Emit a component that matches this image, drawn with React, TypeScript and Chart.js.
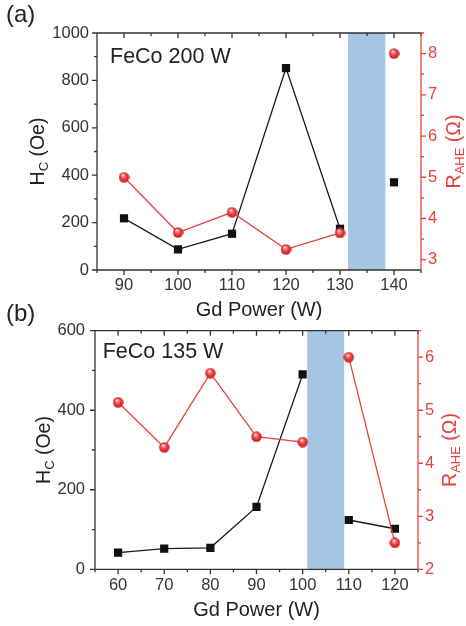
import React, { useEffect, useRef } from "react";
import { Chart, registerables } from "chart.js";
Chart.register(...registerables);

// ---------- Panel (a): FeCo 200 W ----------
const powerA = [90, 100, 110, 120, 130, 140];
const hcA = [218, 87, 153, 852, 174, 370];
const rA = [5.0, 3.66, 4.15, 3.25, 3.65, 8.0];
const breakA = 4; // no connecting line after this index
const bandA = [131.5, 138.4];
const xTicksA = [90, 100, 110, 120, 130, 140];
const hcTicksA = [0, 200, 400, 600, 800, 1000];
const rTicksA = [3, 4, 5, 6, 7, 8];

// ---------- Panel (b): FeCo 135 W ----------
const powerB = [60, 70, 80, 90, 100, 110, 120];
const hcB = [42, 52, 54, 157, 490, 124, 102];
const rB = [5.15, 4.3, 5.7, 4.5, 4.4, 6.0, 2.5];
const breakB = 4;
const bandB = [101, 109];
const xTicksB = [60, 70, 80, 90, 100, 110, 120];
const hcTicksB = [0, 200, 400, 600];
const rTicksB = [2, 3, 4, 5, 6];

const FONT = "'Liberation Sans', Arial, Helvetica, sans-serif";
const DARK = "#333333";
const RED = "#e8403c";
const BLUE = "#a6c4e3";
const W = 466;

type Panel = {
  tag: string;
  note: string;
  canvasTop: number;
  H: number;
  area: { left: number; right: number; top: number; bottom: number };
  x: number[];
  hc: number[];
  r: number[];
  brk: number;
  band: number[];
  xTicks: number[];
  hcTicks: number[];
  rTicks: number[];
  xRange: number[];
  hcRange: number[];
  rRange: number[];
  xMinor: number;
  hcMinor: number;
  rMinor: number;
  tagPos: number[];
  notePos: number[];
  xTitlePos: number[];
  leftTitlePos: number[];
  rightTitlePos: number[];
  leftPad: number;
};

const panels: Panel[] = [
  {
    tag: "(a)",
    note: "FeCo 200 W",
    canvasTop: 0,
    H: 320,
    area: { left: 97, right: 421, top: 33, bottom: 270 },
    x: powerA, hc: hcA, r: rA, brk: breakA, band: bandA,
    xTicks: xTicksA, hcTicks: hcTicksA, rTicks: rTicksA,
    xRange: [85, 145], hcRange: [0, 1000], rRange: [2.75, 8.5],
    xMinor: 5, hcMinor: 100, rMinor: 0.5,
    tagPos: [6, 21.5], notePos: [110, 62.5], xTitlePos: [259, 316],
    leftTitlePos: [43.5, 151.5], rightTitlePos: [460, 151.5], leftPad: 8,
  },
  {
    tag: "(b)",
    note: "FeCo 135 W",
    canvasTop: 300,
    H: 326,
    area: { left: 95, right: 418, top: 30.7, bottom: 269.3 },
    x: powerB, hc: hcB, r: rB, brk: breakB, band: bandB,
    xTicks: xTicksB, hcTicks: hcTicksB, rTicks: rTicksB,
    xRange: [55, 125], hcRange: [0, 600], rRange: [2, 6.5],
    xMinor: 5, hcMinor: 100, rMinor: 0.5,
    tagPos: [6, 21], notePos: [102.7, 58.3], xTitlePos: [256.5, 316],
    leftTitlePos: [50, 150], rightTitlePos: [456, 150], leftPad: 10,
  },
];

function makeBall(d: number) {
  const c = document.createElement("canvas");
  c.width = d;
  c.height = d;
  const g = c.getContext("2d")!;
  const r = d / 2;
  const grad = g.createRadialGradient(r * 0.8, r * 0.6, r * 0.05, r, r, r);
  grad.addColorStop(0, "#ffffff");
  grad.addColorStop(0.22, "#fb8a8a");
  grad.addColorStop(0.55, "#ec3a3a");
  grad.addColorStop(1, "#c41c1c");
  g.fillStyle = grad;
  g.beginPath();
  g.arc(r, r, r - 0.3, 0, Math.PI * 2);
  g.fill();
  return c;
}

function drawRotated(
  ctx: CanvasRenderingContext2D,
  parts: { t: string; sub?: boolean }[],
  bx: number,
  cy: number,
  color: string,
  size: number
) {
  const fMain = `${size}px ${FONT}`;
  const fSub = `${Math.round(size * 0.66)}px ${FONT}`;
  ctx.save();
  ctx.translate(bx, cy);
  ctx.rotate(-Math.PI / 2);
  let total = 0;
  for (const p of parts) {
    ctx.font = p.sub ? fSub : fMain;
    total += ctx.measureText(p.t).width;
  }
  let x = -total / 2;
  ctx.fillStyle = color;
  ctx.textAlign = "left";
  ctx.textBaseline = "alphabetic";
  for (const p of parts) {
    ctx.font = p.sub ? fSub : fMain;
    ctx.fillText(p.t, x, p.sub ? size * 0.22 : 0);
    x += ctx.measureText(p.t).width;
  }
  ctx.restore();
}

function minorValues(min: number, max: number, step: number) {
  const out: number[] = [];
  const start = Math.ceil(min / step - 1e-9) * step;
  for (let v = start; v <= max + 1e-9; v += step) out.push(Math.round(v * 1000) / 1000);
  return out;
}

function PanelChart({ p }: { p: Panel }) {
  const ref = useRef<HTMLCanvasElement | null>(null);
  useEffect(() => {
    const canvas = ref.current!;
    const ball = makeBall(11);

    const deco = {
      id: "deco",
      beforeDatasetsDraw(chart: any) {
        const { ctx, chartArea } = chart;
        const xs = chart.scales.x;
        const x0 = xs.getPixelForValue(p.band[0]);
        const x1 = xs.getPixelForValue(p.band[1]);
        ctx.save();
        ctx.fillStyle = BLUE;
        ctx.fillRect(x0, chartArea.top, x1 - x0, chartArea.bottom - chartArea.top);
        ctx.restore();
      },
      afterDraw(chart: any) {
        const { ctx, chartArea } = chart;
        const { left, right, top, bottom } = chartArea;
        const xs = chart.scales.x;
        const ys = chart.scales.y;
        const rs = chart.scales.y1;
        ctx.save();
        ctx.lineWidth = 1.3;
        ctx.strokeStyle = DARK;
        ctx.beginPath();
        ctx.moveTo(left, top);
        ctx.lineTo(left, bottom);
        ctx.lineTo(right, bottom);
        ctx.moveTo(left, top);
        ctx.lineTo(right, top);
        for (const v of minorValues(p.xRange[0], p.xRange[1], p.xMinor)) {
          const px = xs.getPixelForValue(v);
          const major = p.xTicks.includes(v);
          const len = major ? 5 : 3;
          ctx.moveTo(px, bottom);
          ctx.lineTo(px, bottom + len);
          ctx.moveTo(px, top);
          ctx.lineTo(px, top + len);
        }
        for (const v of minorValues(p.hcRange[0], p.hcRange[1], p.hcMinor)) {
          const py = ys.getPixelForValue(v);
          const major = p.hcTicks.includes(v);
          ctx.moveTo(left - (major ? 5 : 3), py);
          ctx.lineTo(left, py);
        }
        ctx.stroke();
        ctx.strokeStyle = RED;
        ctx.beginPath();
        ctx.moveTo(right, top);
        ctx.lineTo(right, bottom);
        for (const v of minorValues(p.rRange[0], p.rRange[1], p.rMinor)) {
          const py = rs.getPixelForValue(v);
          const major = p.rTicks.includes(v);
          ctx.moveTo(right, py);
          ctx.lineTo(right + (major ? 5 : 3), py);
        }
        ctx.stroke();

        ctx.fillStyle = "#222";
        ctx.textBaseline = "alphabetic";
        ctx.textAlign = "left";
        ctx.font = `24px ${FONT}`;
        ctx.fillText(p.tag, p.tagPos[0], p.tagPos[1]);
        ctx.font = `21.5px ${FONT}`;
        ctx.fillText(p.note, p.notePos[0], p.notePos[1]);
        ctx.textAlign = "center";
        ctx.font = `20px ${FONT}`;
        ctx.fillText("Gd Power (W)", p.xTitlePos[0], p.xTitlePos[1]);
        drawRotated(
          ctx,
          [{ t: "H" }, { t: "C", sub: true }, { t: " (Oe)" }],
          p.leftTitlePos[0],
          p.leftTitlePos[1],
          "#222",
          19.5
        );
        drawRotated(
          ctx,
          [{ t: "R" }, { t: "AHE", sub: true }, { t: " (Ω)" }],
          p.rightTitlePos[0],
          p.rightTitlePos[1],
          RED,
          19.5
        );
        ctx.restore();
      },
    };

    const tickFont = { family: FONT, size: 16.5 };
    const chart = new Chart(canvas, {
      type: "line",
      data: {
        datasets: [
          {
            label: "R",
            data: p.x.map((x, i) => ({ x, y: p.r[i] })),
            yAxisID: "y1",
            borderColor: RED,
            borderWidth: 1.3,
            pointStyle: ball as any,
            pointRadius: 5,
            order: 0,
            segment: {
              borderColor: (c: any) => (c.p0DataIndex === p.brk ? "rgba(0,0,0,0)" : RED),
            },
          },
          {
            label: "Hc",
            data: p.x.map((x, i) => ({ x, y: p.hc[i] })),
            yAxisID: "y",
            borderColor: "#1a1a1a",
            backgroundColor: "#111111",
            borderWidth: 1.3,
            pointStyle: "rect",
            pointRadius: 5.8,
            pointBorderWidth: 0,
            order: 1,
            segment: {
              borderColor: (c: any) => (c.p0DataIndex === p.brk ? "rgba(0,0,0,0)" : "#1a1a1a"),
            },
          },
        ],
      },
      options: {
        responsive: false,
        animation: false,
        devicePixelRatio: 1,
        layout: { padding: { top: p.area.top, left: 0, right: 0, bottom: 0 } },
        plugins: {
          legend: { display: false },
          tooltip: { enabled: false },
        },
        scales: {
          x: {
            type: "linear",
            position: "bottom",
            min: p.xRange[0],
            max: p.xRange[1],
            grid: { display: false, drawTicks: false },
            border: { display: false },
            ticks: {
              font: tickFont,
              color: DARK,
              padding: 6,
              maxRotation: 0,
              autoSkip: false,
              callback: (v: any) => String(v),
            },
            afterBuildTicks: (s: any) => {
              s.ticks = p.xTicks.map((v) => ({ value: v }));
            },
            afterFit: (s: any) => {
              s.height = p.H - p.area.bottom;
            },
          },
          y: {
            type: "linear",
            position: "left",
            min: p.hcRange[0],
            max: p.hcRange[1],
            grid: { display: false, drawTicks: false },
            border: { display: false },
            ticks: {
              font: tickFont,
              color: DARK,
              padding: p.leftPad,
              autoSkip: false,
              callback: (v: any) => String(v),
            },
            afterBuildTicks: (s: any) => {
              s.ticks = p.hcTicks.map((v) => ({ value: v }));
            },
            afterFit: (s: any) => {
              s.width = p.area.left;
            },
          },
          y1: {
            type: "linear",
            position: "right",
            min: p.rRange[0],
            max: p.rRange[1],
            grid: { display: false, drawTicks: false },
            border: { display: false },
            ticks: {
              font: tickFont,
              color: RED,
              padding: 7,
              autoSkip: false,
              callback: (v: any) => String(v),
            },
            afterBuildTicks: (s: any) => {
              s.ticks = p.rTicks.map((v) => ({ value: v }));
            },
            afterFit: (s: any) => {
              s.width = W - p.area.right;
            },
          },
        },
      },
      plugins: [deco],
    } as any);
    return () => chart.destroy();
  }, [p]);

  return (
    <canvas
      ref={ref}
      width={W}
      height={p.H}
      style={{ position: "absolute", left: 0, top: p.canvasTop, width: W, height: p.H, display: "block" }}
    />
  );
}

export default function App() {
  return (
    <div style={{ position: "absolute", left: 0, top: 0, width: W, height: 626, background: "#fff" }}>
      {panels.map((p) => (
        <PanelChart key={p.tag} p={p} />
      ))}
    </div>
  );
}
